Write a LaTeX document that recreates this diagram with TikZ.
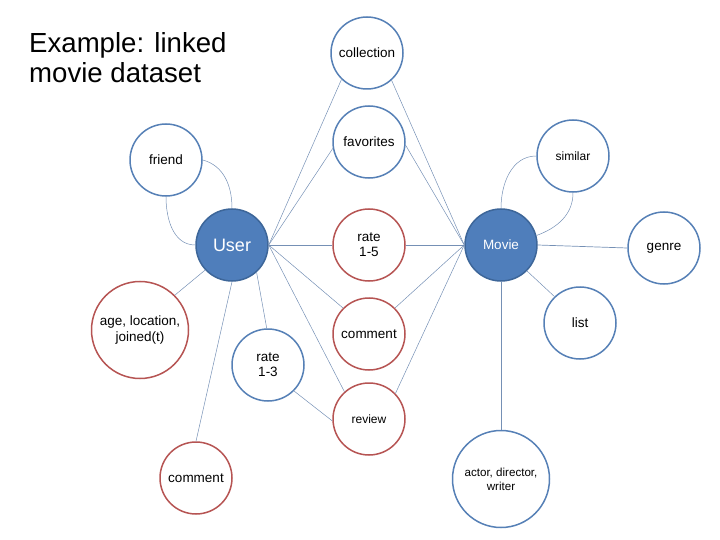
\documentclass[tikz,border=0pt]{standalone}
\usepackage{fontspec}
\setmainfont{Liberation Sans}
\definecolor{nodeblue}{HTML}{5680B6}
\definecolor{nodered}{HTML}{B65453}
\definecolor{fillblue}{HTML}{4F7EBB}
\definecolor{filledge}{HTML}{3D6699}
\definecolor{linkcol}{HTML}{7590B5}
\tikzset{
 bnode/.style={circle, draw=nodeblue, line width=1.5pt, minimum size=72pt, inner sep=0pt, align=center, font=\fontsize{13.5}{15}\selectfont},
 rnode/.style={bnode, draw=nodered},
 hub/.style={bnode, fill=fillblue, draw=filledge, text=white},
 bignode/.style={minimum size=97pt},
 link/.style={draw=linkcol, line width=0.5pt},
}
\begin{document}
\begin{tikzpicture}[x=1pt,y=-1pt]
\useasboundingbox (0,0) rectangle (720,540);
\node[anchor=north west, inner sep=0pt, align=left, font=\fontsize{27.6}{30}\selectfont] (title) at (29,32) {Example: linked\\movie dataset};

\node[bnode] (collection) at (367,53) {collection};
\node[bnode] (favorites) at (369,142) {favorites};
\node[bnode, font=\fontsize{12}{14}\selectfont] (similar) at (573,156) {similar};
\node[bnode] (friend) at (166,160) {friend};
\node[hub, font=\fontsize{18}{20}\selectfont] (user) at (232,245) {User};
\node[rnode] (rate15) at (369,245) {rate\\1-5};
\node[hub] (movie) at (501,245) {Movie};
\node[bnode] (genre) at (664,248) {genre};
\node[rnode, bignode, font=\fontsize{13.5}{16.5}\selectfont] (age) at (140,330) {age, location,\\joined(t)};
\node[bnode] (rate13) at (268,365) {rate\\1-3};
\node[rnode] (commentm) at (369,334) {comment};
\node[bnode] (list) at (580,323) {list};
\node[rnode, font=\fontsize{12}{14}\selectfont] (review) at (369,419) {review};
\node[rnode] (commentb) at (196,478) {comment};
\node[bnode, bignode, font=\fontsize{11.6}{14}\selectfont] (actor) at (501,479) {actor, director,\\writer};

% user links
\draw[link] (user.east) -- (collection.226);
\draw[link] (user.east) -- (favorites.190);
\draw[link] (user.east) -- (rate15.west);
\draw[link] (user.east) -- (commentm.135);
\draw[link] (user.east) -- (review.132);
\draw[link] (user.-48) -- (rate13.92);
\draw[link] (user.south) -- (commentb.north);
\draw[link] (user.223) -- (age.45);
\draw[link] (friend.east) to[out=-15,in=90] (user.north);
\draw[link] (friend.south) to[out=-90,in=180] (user.west);
\draw[link] (rate13.-45) -- (review.183);
% movie links
\draw[link] (movie.west) -- (collection.312);
\draw[link] (movie.west) -- (favorites.355);
\draw[link] (movie.west) -- (rate15.east);
\draw[link] (movie.west) -- (commentm.45);
\draw[link] (movie.west) -- (review.44);
\draw[link] (movie.north) to[out=90,in=180] (similar.west);
\draw[link] (similar.south) to[out=-90,in=20] (movie.15);
\draw[link, line width=0.7pt] (movie.east) -- (genre.west);
\draw[link] (movie.-45) -- (list.134);
\draw[link, line width=0.8pt] (movie.south) -- (actor.north);
\end{tikzpicture}
\end{document}
